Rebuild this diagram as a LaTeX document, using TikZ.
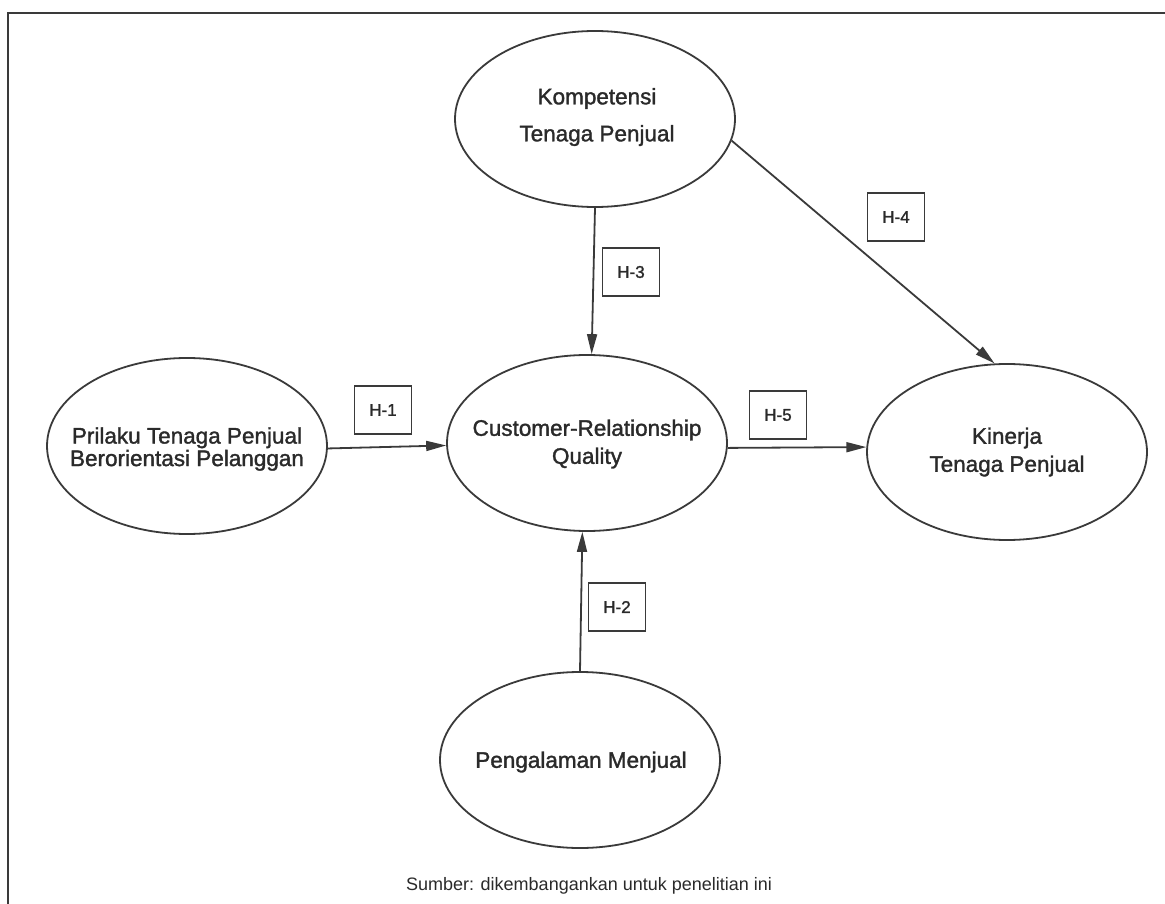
\documentclass[tikz,border=0pt]{standalone}
\usepackage{fontspec}
\setmainfont{Liberation Sans}
\newfontfamily\hvy{Liberation Sans}[FakeBold=1.5]
\usetikzlibrary{shapes.geometric,arrows.meta}
\definecolor{ink}{HTML}{3A3A3A}
\definecolor{txt}{HTML}{2A2A2A}
\begin{document}
\begin{tikzpicture}[x=1pt,y=-1pt,
  construct/.style={ellipse,draw=ink,line width=1.8pt,minimum width=280pt,minimum height=176pt,inner sep=0pt,align=center,text=txt},
  lbl/.style={font=\hvy\fontsize{22.5}{28}\selectfont,align=center,text=txt,inner sep=0pt},
  hbox/.style={draw=ink,line width=1.5pt,minimum width=57pt,minimum height=48pt,inner sep=0pt,text=txt,font=\hvy\fontsize{17}{20}\selectfont},
  path/.style={draw=ink,line width=1.8pt,-{Triangle[length=20pt,width=10pt]}}]
\useasboundingbox (0,0) rectangle (1165,904);
% open frame
\coordinate (ftl) at (8,13);
\coordinate (ftr) at (1165,13);
\coordinate (fbl) at (8,904);
\draw[ink,line width=2pt] (ftr) -- (ftl) -- (fbl);
% constructs
\node[construct] (komp) at (595,119) {};
\node[construct] (pril) at (187,446) {};
\node[construct] (crq) at (587,443) {};
\node[construct] (kin) at (1007,452) {};
\node[construct] (peng) at (580,760) {};
% texts
\node[lbl,font=\hvy\fontsize{22.5}{37}\selectfont] (kompt) at (597,117) {Kompetensi\\Tenaga Penjual};
\node[lbl,font=\hvy\fontsize{22.5}{22.5}\selectfont] (prilt) at (187,449) {Prilaku Tenaga Penjual\\Berorientasi Pelanggan};
\node[lbl] (crqt) at (587,444) {Customer-Relationship\\Quality};
\node[lbl] (kint) at (1007,452) {Kinerja\\Tenaga Penjual};
\node[lbl] (pengt) at (581,762) {Pengalaman Menjual};
% paths
\draw[path] (pril.-1) -- (crq.181);
\draw[path] (komp.south) -- (crq.87);
\draw[path] (peng.north) -- (crq.-93);
\draw[path] (crq.-2) -- (kin.178);
\draw[path] (komp.-9) -- (kin.98);
% hypothesis labels
\node[hbox] (h1) at (383,410) {H-1};
\node[hbox] (h3) at (631,272) {H-3};
\node[hbox] (h4) at (896,217) {H-4};
\node[hbox] (h5) at (778,415) {H-5};
\node[hbox] (h2) at (617,607) {H-2};
% caption
\node[text=txt,font=\fontsize{18}{20}\selectfont,inner sep=0pt] (cap) at (589,886) {Sumber: dikembangankan untuk penelitian ini};
\end{tikzpicture}
\end{document}
